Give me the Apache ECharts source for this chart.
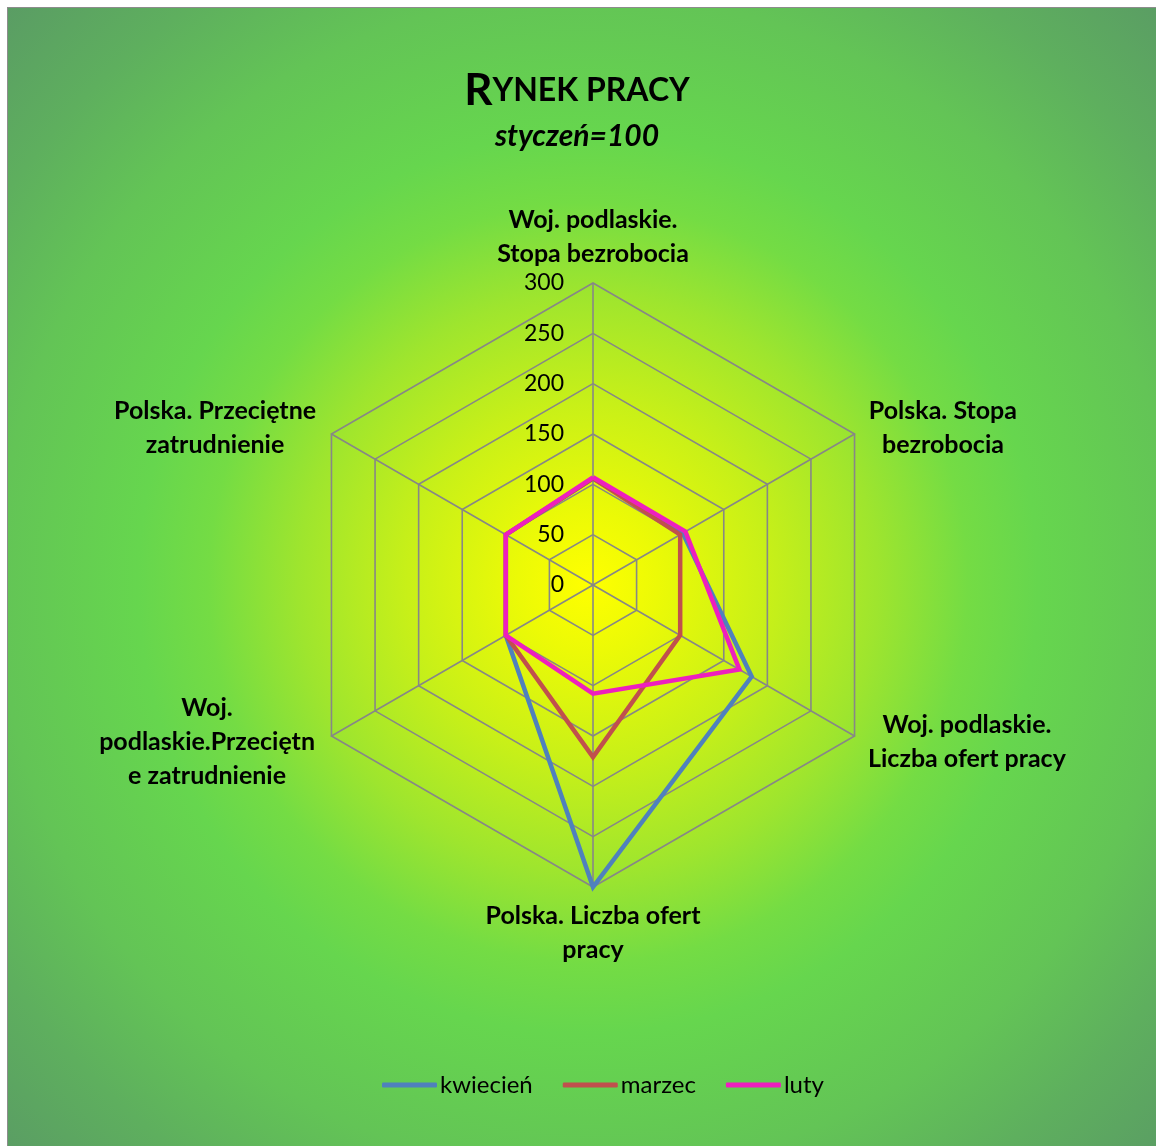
<!DOCTYPE html>
<html>
<head>
<meta charset="utf-8">
<script src="https://cdn.jsdelivr.net/npm/echarts@6/dist/echarts.min.js"></script>
<style>
  html, body { margin: 0; padding: 0; background: #ffffff; width: 1156px; height: 1146px; overflow: hidden; }
  #frame { position: absolute; left: 7px; top: 7px; width: 1149px; height: 1139px; border-left: 1px solid #8c8c8c; border-top: 1px solid #8c8c8c; box-sizing: border-box; }
  #chart { position: absolute; left: 8px; top: 8px; width: 1148px; height: 1138px;
    background: radial-gradient(circle at 580px 575px, #ffff00 0px, #ecfa06 70px, #c8f018 180px, #9ee52e 290px, #74dc44 380px, #66d64e 450px, #63c456 590px, #5eaf5e 700px, #5a9c64 820px); }
</style>
</head>
<body>
<div id="frame"></div>
<div id="chart"></div>
<script>
// ---- data (Excel category order, clockwise from top) ----
const categories = [
  'Woj. podlaskie.\nStopa bezrobocia',
  'Polska. Stopa\nbezrobocia',
  'Woj. podlaskie.\nLiczba ofert pracy',
  'Polska. Liczba ofert\npracy',
  'Woj.\npodlaskie.Przeciętn\ne zatrudnienie',
  'Polska. Przeciętne\nzatrudnienie'
];
const seriesNames = ['kwiecień', 'marzec', 'luty'];
const kwiecien = [106, 103, 182, 300, 100, 100];
const marzec   = [106, 100, 100, 171, 100, 100];
const luty     = [107, 106, 168, 108, 100, 100];
const axisMax = 300;
const axisInterval = 50;
const titleText = 'RYNEK PRACY';
const subtitleText = 'styczeń=100';

// ---- build ----
const FONT = 'Lato';
// ECharts radar runs counter-clockwise; reorder so the picture runs clockwise like Excel
const order = [0, 5, 4, 3, 2, 1];
const nameWidths = [200, 156, 204, 240, 228, 212];
const rich = {};
categories.forEach((c, i) => {
  rich['n' + i] = { width: nameWidths[i], align: 'center', fontFamily: FONT, fontWeight: 'bold', fontSize: 25, lineHeight: 34, color: '#000' };
});
const indicators = order.map((k, j) => {
  const ind = { name: categories[k], max: axisMax, min: 0 };
  ind.axisLabel = { show: j === 0 };
  return ind;
});
const pick = arr => order.map(k => arr[k]);
const colors = ['#4f81bd', '#c0504d', '#ee1fbe'];
const dataSets = [kwiecien, marzec, luty];

const chart = echarts.init(document.getElementById('chart'), null, { renderer: 'canvas' });
chart.setOption({
  backgroundColor: 'transparent',
  animation: false,
  title: {
    text: '{a|' + titleText.charAt(0) + '}{b|' + titleText.slice(1) + '}',
    subtext: subtitleText,
    left: 564, top: 56, textAlign: 'center', itemGap: 8,
    textStyle: { rich: {
      a: { fontFamily: FONT, fontWeight: 'bold', fontSize: 44, color: '#000' },
      b: { fontFamily: FONT, fontWeight: 'bold', fontSize: 32, color: '#000' }
    } },
    subtextStyle: { fontFamily: FONT, fontWeight: 'bold', fontStyle: 'italic', fontSize: 30, color: '#000' }
  },
  legend: {
    data: seriesNames,
    left: 369, top: 1060,
    icon: 'roundRect', itemWidth: 55, itemHeight: 5, itemGap: 30,
    textStyle: { fontFamily: FONT, fontSize: 24, color: '#000', padding: [0, 0, 0, -2] }
  },
  radar: {
    center: [585, 577],
    radius: 302,
    startAngle: 90,
    splitNumber: axisMax / axisInterval,
    shape: 'polygon',
    indicator: indicators,
    nameGap: 12,
    axisName: {
      color: '#000',
      formatter: function (name) {
        const k = categories.indexOf(name);
        return name.split('\n').map(l => '{n' + k + '|' + l + '}').join('\n');
      },
      rich: rich
    },
    axisLine: { show: true, lineStyle: { color: '#878787', width: 1.6 } },
    splitLine: { show: true, lineStyle: { color: '#878787', width: 1.6 } },
    splitArea: { show: false },
    axisTick: { show: false },
    axisLabel: { show: false, color: '#000', fontFamily: FONT, fontSize: 23, margin: 29 }
  },
  series: [{
    type: 'radar',
    symbol: 'none',
    data: dataSets.map((d, i) => ({
      name: seriesNames[i],
      value: pick(d),
      lineStyle: { color: colors[i], width: 4.5, join: 'miter' },
      itemStyle: { color: colors[i] }
    }))
  }]
});
</script>
</body>
</html>
